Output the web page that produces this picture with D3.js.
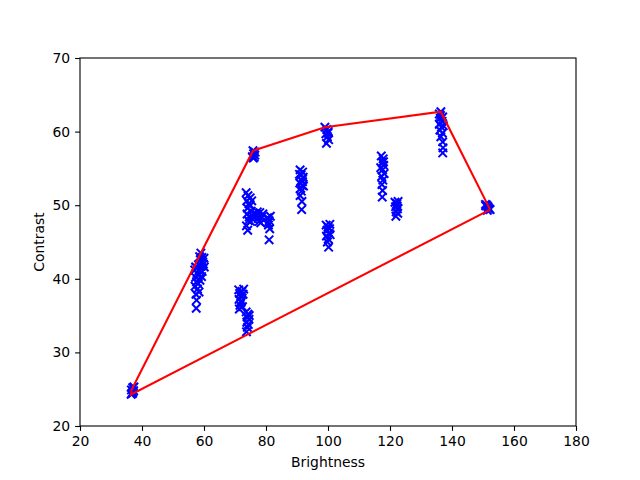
<!DOCTYPE html>
<html><head><meta charset="utf-8">
<script src="https://cdn.jsdelivr.net/npm/d3@7"></script>
<style>body{margin:0;background:#fff}svg{display:block}text{font-family:"DejaVu Sans",sans-serif}</style>
</head><body>
<script>
const brightness = [
36.5,36.6,37.0,37.3,36.8,37.4,36.9,37.1,
57.0,57.3,57.5,57.8,57.3,57.6,57.1,57.9,57.4,57.6,57.5,58.2,58.5,58.8,58.3,58.7,58.1,59.0,59.3,59.6,59.1,59.4,59.8,60.0,59.2,58.4,58.9,60.1,58.6,
71.2,71.5,71.8,71.3,72.0,71.6,72.3,72.6,72.1,71.4,72.8,72.4,
73.6,74.2,73.9,74.5,73.8,74.3,74.0,73.7,74.6,
75.6,76.0,76.4,75.9,76.5,75.8,76.2,
73.6,74.2,73.8,74.5,74.0,74.8,73.9,74.6,75.2,75.5,74.3,73.7,74.1,75.0,75.8,76.2,75.4,74.9,
77.0,77.5,78.0,78.5,77.8,79.0,78.3,77.2,
80.5,81.0,81.4,80.8,81.2,80.7,81.0,
91.0,91.8,91.3,92.0,91.5,90.9,91.7,91.2,92.1,91.4,91.0,91.6,91.5,91.8,90.8,
99.4,100.0,100.6,99.7,100.3,99.5,100.1,100.7,99.8,100.2,100.5,
99.0,99.6,100.1,99.3,99.8,100.2,99.5,100.0,
117.2,117.8,117.5,118.0,117.0,117.6,118.1,117.3,117.7,117.4,117.6,117.5,117.9,
121.6,122.2,122.6,121.8,122.4,122.0,122.5,121.9,122.3,
136.4,135.9,137.0,136.2,136.8,135.9,136.6,137.2,136.1,136.9,136.4,137.0,137.1,137.0,136.3,
150.8,151.2,151.6,152.0,152.3,151.4,150.9,151.8
];
const contrast = [
24.3,24.9,25.2,24.8,24.5,25.3,24.4,24.6,
41.2,41.6,41.5,40.8,40.2,39.6,39.0,38.6,37.9,37.1,36.0,41.9,41.2,42.6,40.5,39.8,39.3,43.5,42.9,42.3,41.7,41.0,42.0,42.8,40.3,38.2,40.9,41.6,43.0,
38.5,38.0,37.6,37.2,36.8,36.4,38.3,37.9,37.0,35.9,38.6,36.2,
35.5,35.2,34.8,34.5,34.1,33.8,33.4,32.8,35.0,
56.6,57.0,56.8,56.4,57.2,57.4,56.5,
51.7,51.3,50.6,50.2,49.6,49.9,48.8,48.4,49.2,48.6,47.9,47.2,46.6,47.8,48.1,48.9,50.6,51.0,
48.7,48.2,49.0,48.4,47.8,48.8,47.6,49.1,
48.3,47.9,48.5,47.3,46.8,47.6,45.3,
54.8,54.5,54.1,53.8,53.4,53.0,52.7,52.3,52.6,51.9,51.3,50.5,49.4,53.2,54.2,
47.3,47.0,47.4,46.6,46.2,45.8,45.4,46.0,45.0,44.3,46.8,
60.6,60.3,60.0,59.7,59.3,58.9,58.4,59.8,
56.7,56.3,55.8,55.4,55.1,54.8,54.3,53.9,53.4,52.8,52.0,51.1,55.9,
50.4,50.2,50.5,49.8,49.5,49.1,48.9,48.5,49.9,
62.7,62.4,62.0,61.8,61.4,61.0,60.6,60.8,60.2,59.8,59.3,58.6,57.8,57.1,62.2,
50.1,50.0,49.8,49.5,49.4,49.3,49.9,49.6
];
const xTicks = [20,40,60,80,100,120,140,160,180];
const yTicks = [20,30,40,50,60,70];
const xLabel = "Brightness", yLabel = "Contrast";

const W = 640, H = 480, L = 80, R = 576, T = 58, B = 426;
const svg = d3.select("body").append("svg").attr("width", W).attr("height", H);
const x = d3.scaleLinear().domain([20,180]).range([L,R]);
const y = d3.scaleLinear().domain([20,70]).range([B,T]);

const pts = brightness.map((b,i)=>[b, contrast[i]]);

// points
const s = 4.2;
const g = svg.append("g");
pts.forEach(p=>{
  const cx = x(p[0]), cy = y(p[1]);
  g.append("path").attr("d",`M${cx-s},${cy-s}L${cx+s},${cy+s}M${cx-s},${cy+s}L${cx+s},${cy-s}`)
    .attr("stroke","#0000ff").attr("stroke-width",2).attr("fill","none");
});

// hull
const hull = d3.polygonHull(pts);
const hullClosed = hull.concat([hull[0]]);
svg.append("path").datum(hullClosed)
  .attr("d", d3.line().x(d=>x(d[0])).y(d=>y(d[1])))
  .attr("fill","none").attr("stroke","#ff0000").attr("stroke-width",2.1);

// axes
const xa = svg.append("g").attr("transform",`translate(0,${B})`)
  .call(d3.axisBottom(x).tickValues(xTicks).tickSize(4.9).tickPadding(4.9).tickFormat(d3.format("d")));
const ya = svg.append("g").attr("transform",`translate(${L},0)`)
  .call(d3.axisLeft(y).tickValues(yTicks).tickSize(4.9).tickPadding(4.9).tickFormat(d3.format("d")));
[xa,ya].forEach(a=>{
  a.select(".domain").remove();
  a.selectAll("line").attr("stroke","#000").attr("stroke-width",1.1);
  a.selectAll("text").attr("font-size",13.9).attr("fill","#000").attr("font-family","DejaVu Sans");
});
svg.append("rect").attr("x",L).attr("y",T).attr("width",R-L).attr("height",B-T)
  .attr("fill","none").attr("stroke","#000").attr("stroke-width",1.1);

svg.append("text").attr("x",(L+R)/2).attr("y",467).attr("text-anchor","middle")
  .attr("font-size",13.9).text(xLabel);
svg.append("text").attr("transform",`translate(44,${(T+B)/2}) rotate(-90)`).attr("text-anchor","middle")
  .attr("font-size",13.9).text(yLabel);
</script>
</body></html>
